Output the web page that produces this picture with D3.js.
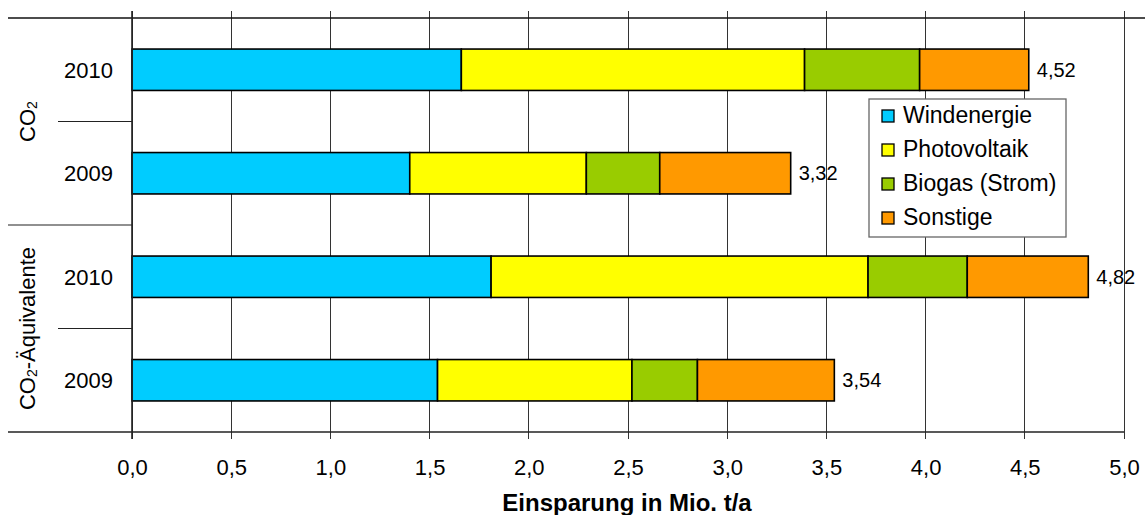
<!DOCTYPE html>
<html>
<head>
<meta charset="utf-8">
<script src="https://cdn.jsdelivr.net/npm/d3@7"></script>
<style>
  html, body { margin: 0; padding: 0; background: #fff; }
  svg { display: block; font-family: "Liberation Sans", Arial, sans-serif; }
</style>
</head>
<body>
<svg id="chart" width="1145" height="515"></svg>
<script>
// ---- data ----
const categories = ["CO2|2010", "CO2|2009", "AEQ|2010", "AEQ|2009"];
const yearLabels = ["2010", "2009", "2010", "2009"];
const groups = ["CO2", "AEQ"];
const seriesNames = ["Windenergie", "Photovoltaik", "Biogas (Strom)", "Sonstige"];
const windenergie = [1.66, 1.40, 1.81, 1.54];
const photovoltaik = [1.73, 0.89, 1.90, 0.98];
const biogas = [0.58, 0.37, 0.50, 0.33];
const sonstige = [0.55, 0.66, 0.61, 0.69];
const totals = ["4,52", "3,32", "4,82", "3,54"];
const xTicks = [0, 0.5, 1, 1.5, 2, 2.5, 3, 3.5, 4, 4.5, 5];
const colors = ["#00CCFF", "#FFFF00", "#99CC00", "#FF9900"];
const axisTitle = "Einsparung in Mio. t/a";

// ---- layout ----
const svg = d3.select("#chart");
const pL = 132, pR = 1124, pT = 18, pB = 432;

const x = d3.scaleLinear().domain([0, 5]).range([pL, pR]);
const y = d3.scaleBand().domain(categories).range([pT, pB])
  .paddingInner(0.6).paddingOuter(0.3);

const rows = categories.map((c, i) => ({
  cat: c,
  Windenergie: windenergie[i],
  Photovoltaik: photovoltaik[i],
  "Biogas (Strom)": biogas[i],
  Sonstige: sonstige[i]
}));
const stack = d3.stack().keys(seriesNames)(rows);
const color = d3.scaleOrdinal().domain(seriesNames).range(colors);
const fmt = v => d3.format(".1f")(v).replace(".", ",");

// gridlines
svg.append("g").selectAll("line").data(xTicks).join("line")
  .attr("x1", d => x(d)).attr("x2", d => x(d))
  .attr("y1", 11).attr("y2", pB + 7)
  .attr("stroke", "#333").attr("stroke-width", 1)
  .attr("shape-rendering", "crispEdges");

// top horizontal line
svg.append("line").attr("x1", 8).attr("x2", 1145)
  .attr("y1", pT).attr("y2", pT)
  .attr("stroke", "#111").attr("stroke-width", 1.3);

// bars
svg.append("g").selectAll("g").data(stack).join("g")
  .attr("fill", d => color(d.key))
  .selectAll("rect").data(d => d).join("rect")
  .attr("x", d => x(d[0]))
  .attr("width", d => x(d[1]) - x(d[0]))
  .attr("y", d => y(d.data.cat))
  .attr("height", y.bandwidth())
  .attr("stroke", "#000").attr("stroke-width", 1.6);

// total labels
svg.append("g").selectAll("text").data(rows).join("text")
  .attr("x", (d, i) => x(stack[3][i][1]) + 8)
  .attr("y", d => y(d.cat) + y.bandwidth() / 2 + 7)
  .attr("font-size", 20).attr("fill", "#000")
  .text((d, i) => totals[i]);

// x axis
const xAxis = d3.axisBottom(x).tickValues(xTicks).tickFormat(fmt).tickSize(0).tickPadding(0);
const gx = svg.append("g").attr("transform", `translate(0,${pB})`).call(xAxis);
gx.select(".domain").remove();
gx.selectAll("text").attr("font-size", 22).attr("fill", "#000")
  .attr("font-family", "Liberation Sans, Arial, sans-serif")
  .attr("dy", null).attr("y", 43);
svg.append("line").attr("x1", 8).attr("x2", pR)
  .attr("y1", pB).attr("y2", pB)
  .attr("stroke", "#222").attr("stroke-width", 1.6);

// y axis line
svg.append("line").attr("x1", pL).attr("x2", pL)
  .attr("y1", 11).attr("y2", pB + 7)
  .attr("stroke", "#222").attr("stroke-width", 1.6);

// category separators
const step = y.step();
const sepYs = [y(categories[0]) - y.paddingOuter() * step + step,
               y(categories[2]) - y.paddingOuter() * step + step];
svg.append("g").selectAll("line").data(sepYs).join("line")
  .attr("x1", 58).attr("x2", pL)
  .attr("y1", d => d).attr("y2", d => d)
  .attr("stroke", "#222").attr("stroke-width", 1.2);
// group separator
const midY = (pT + pB) / 2;
svg.append("line").attr("x1", 8).attr("x2", pL)
  .attr("y1", midY).attr("y2", midY)
  .attr("stroke", "#222").attr("stroke-width", 1.2);

// year labels
svg.append("g").selectAll("text").data(categories).join("text")
  .attr("x", 113)
  .attr("y", d => y(d) + y.bandwidth() / 2 + 8)
  .attr("text-anchor", "end").attr("font-size", 22).attr("fill", "#000")
  .text((d, i) => yearLabels[i]);

// group labels (rotated)
const groupCenters = [(pT + midY) / 2, (midY + pB) / 2];
const g1 = svg.append("text")
  .attr("transform", `translate(35,${groupCenters[0]}) rotate(-90)`)
  .attr("text-anchor", "middle").attr("font-size", 22).attr("fill", "#000");
g1.append("tspan").text("CO");
g1.append("tspan").attr("font-size", 14).attr("dy", 2).text("2");

const g2 = svg.append("text")
  .attr("transform", `translate(35,${groupCenters[1]}) rotate(-90)`)
  .attr("text-anchor", "middle").attr("font-size", 22).attr("fill", "#000");
g2.append("tspan").text("CO");
g2.append("tspan").attr("font-size", 14).attr("dy", 2).text("2");
g2.append("tspan").attr("dy", -2).text("-Äquivalente");

// axis title
svg.append("text").attr("x", 627).attr("y", 511)
  .attr("text-anchor", "middle").attr("font-size", 24).attr("font-weight", "bold")
  .attr("fill", "#000").text(axisTitle);

// legend
const lg = svg.append("g").attr("transform", "translate(869,99)");
lg.append("rect").attr("width", 197).attr("height", 138)
  .attr("fill", "#fff").attr("stroke", "#666").attr("stroke-width", 1.3);
const items = lg.selectAll("g.item").data(seriesNames).join("g")
  .attr("transform", (d, i) => `translate(0,${11 + i * 34})`);
items.append("rect").attr("x", 13).attr("y", 0).attr("width", 12).attr("height", 12)
  .attr("fill", d => color(d)).attr("stroke", "#000").attr("stroke-width", 1.3);
items.append("text").attr("x", 34).attr("y", 12.5)
  .attr("font-size", 23).attr("fill", "#000").text(d => d);
</script>
</body>
</html>
